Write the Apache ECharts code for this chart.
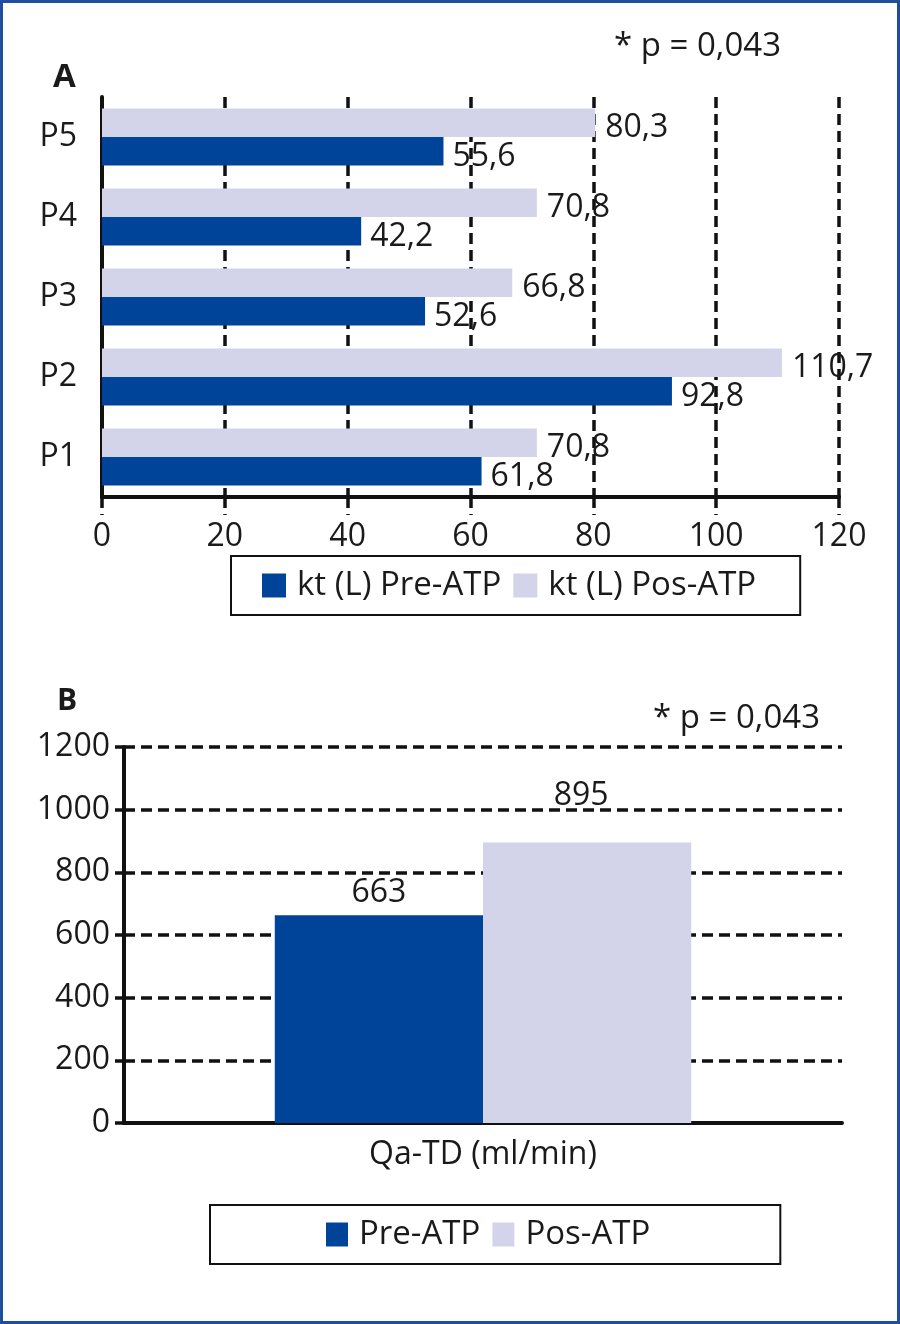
<!DOCTYPE html>
<html>
<head>
<meta charset="utf-8">
<script src="https://cdn.jsdelivr.net/npm/echarts@6/dist/echarts.min.js"></script>
<style>
html,body{margin:0;padding:0;background:#fff;}
#wrap{position:relative;width:900px;height:1324px;}
#chart{position:absolute;left:0;top:0;width:900px;height:1324px;}
#frame{position:absolute;left:0;top:0;width:900px;height:1324px;box-sizing:border-box;border:3px solid #1f4e9e;pointer-events:none;}
</style>
</head>
<body>
<div id="wrap"><div id="chart"></div><div id="frame"></div></div>
<script>
// Chart A data
const patientsA = ['P1', 'P2', 'P3', 'P4', 'P5'];
const ktPre = [61.8, 92.8, 52.6, 42.2, 55.6];
const ktPos = [70.8, 110.7, 66.8, 70.8, 80.3];
const seriesNamesA = ['kt (L) Pre-ATP', 'kt (L) Pos-ATP'];
const ticksA = [0, 20, 40, 60, 80, 100, 120];

// Chart B data
const categoriesB = ['Qa-TD (ml/min)'];
const qaPre = [663];
const qaPos = [895];
const seriesNamesB = ['Pre-ATP', 'Pos-ATP'];
const ticksB = [0, 200, 400, 600, 800, 1000, 1200];

const pValueText = '* p = 0,043';

const DARK = '#00449a';
const LIGHT = '#d3d4ea';
const TXT = '#1a1a1a';
const FONT = '"Open Sans", "Noto Sans", sans-serif';
const FS = 32;
const FSL = 33;

const fmt = p => String(p.value).replace('.', ',');

const chart = echarts.init(document.getElementById('chart'), null, {renderer: 'canvas'});

const dashed = {color: '#111', width: 3.5, type: [11, 6]};

const option = {
  animation: false,
  textStyle: {fontFamily: FONT, color: TXT},
  title: [
    {text: 'A', left: 48, top: 56, textStyle: {fontSize: 33, fontWeight: 'bold', color: TXT, fontFamily: FONT}},
    {text: pValueText, right: 114, top: 25, textStyle: {fontSize: FSL, fontWeight: 'normal', color: TXT, fontFamily: FONT}},
    {text: 'B', left: 52, top: 681, textStyle: {fontSize: 30, fontWeight: 'bold', color: TXT, fontFamily: FONT}},
    {text: pValueText, right: 75, top: 697, textStyle: {fontSize: FSL, fontWeight: 'normal', color: TXT, fontFamily: FONT}}
  ],
  legend: [
    {
      data: seriesNamesA,
      left: 231, top: 556,
      padding: [13, 44, 13, 31],
      borderColor: '#111', borderWidth: 2,
      itemWidth: 24, itemHeight: 24, itemGap: 12,
      icon: 'rect',
      textStyle: {fontSize: FSL, color: TXT, fontFamily: FONT, padding: [0, 0, 0, 6]}
    },
    {
      data: seriesNamesB,
      left: 210, top: 1205,
      padding: [13, 130, 13, 116],
      borderColor: '#111', borderWidth: 2,
      itemWidth: 22, itemHeight: 24, itemGap: 12,
      icon: 'rect',
      textStyle: {fontSize: FSL, color: TXT, fontFamily: FONT, padding: [0, 0, 0, 6]}
    }
  ],
  grid: [
    {left: 102, right: 61, top: 97, height: 400, containLabel: false},
    {left: 124, right: 58, top: 747, height: 376, containLabel: false}
  ],
  xAxis: [
    {
      gridIndex: 0, type: 'value', min: ticksA[0], max: ticksA[ticksA.length - 1], interval: 20,
      axisLine: {show: true, lineStyle: {color: '#111', width: 4}},
      axisTick: {show: true, length: 18, lineStyle: {color: '#111', width: 3.5, type: [11, 6]}},
      axisLabel: {fontSize: FS, color: TXT, margin: 24, fontFamily: FONT, formatter: v => String(v)},
      splitLine: {show: true, lineStyle: dashed}
    },
    {
      gridIndex: 1, type: 'category', data: categoriesB,
      axisLine: {show: true, lineStyle: {color: '#111', width: 4}},
      axisTick: {show: false},
      axisLabel: {fontSize: FS, color: TXT, margin: 16, fontFamily: FONT}
    }
  ],
  yAxis: [
    {
      gridIndex: 0, type: 'category', data: patientsA,
      axisLine: {show: true, lineStyle: {color: '#111', width: 4}},
      axisTick: {show: false},
      axisLabel: {fontSize: FS, color: TXT, margin: 25, fontFamily: FONT}
    },
    {
      gridIndex: 1, type: 'value', min: ticksB[0], max: ticksB[ticksB.length - 1], interval: 200,
      axisLine: {show: true, lineStyle: {color: '#111', width: 4}},
      axisTick: {show: true, length: 9, lineStyle: {color: '#111', width: 3.5}},
      axisLabel: {fontSize: FS, color: TXT, margin: 14, fontFamily: FONT, formatter: v => String(v)},
      splitLine: {show: true, lineStyle: dashed}
    }
  ],
  series: [
    {
      name: seriesNamesA[1], type: 'bar', xAxisIndex: 0, yAxisIndex: 0,
      data: ktPos, barGap: '0%', barCategoryGap: '29%',
      itemStyle: {color: LIGHT},
      label: {show: true, position: 'right', distance: 10, offset: [0, 5], formatter: fmt, fontSize: FS, color: TXT, fontFamily: FONT}
    },
    {
      name: seriesNamesA[0], type: 'bar', xAxisIndex: 0, yAxisIndex: 0,
      data: ktPre, barGap: '0%', barCategoryGap: '29%',
      itemStyle: {color: DARK},
      label: {show: true, position: 'right', distance: 9, offset: [0, 6], formatter: fmt, fontSize: FS, color: TXT, fontFamily: FONT}
    },
    {
      name: seriesNamesB[0], type: 'bar', xAxisIndex: 1, yAxisIndex: 1,
      data: qaPre, barGap: '0%', barCategoryGap: '42%',
      itemStyle: {color: DARK},
      label: {show: true, position: 'top', distance: 6, formatter: fmt, fontSize: FS, color: TXT, fontFamily: FONT}
    },
    {
      name: seriesNamesB[1], type: 'bar', xAxisIndex: 1, yAxisIndex: 1,
      data: qaPos, barGap: '0%', barCategoryGap: '42%',
      itemStyle: {color: LIGHT},
      label: {show: true, position: 'top', distance: 31, offset: [-6, 0], formatter: fmt, fontSize: FS, color: TXT, fontFamily: FONT}
    }
  ]
};
chart.setOption(option);
</script>
</body>
</html>
